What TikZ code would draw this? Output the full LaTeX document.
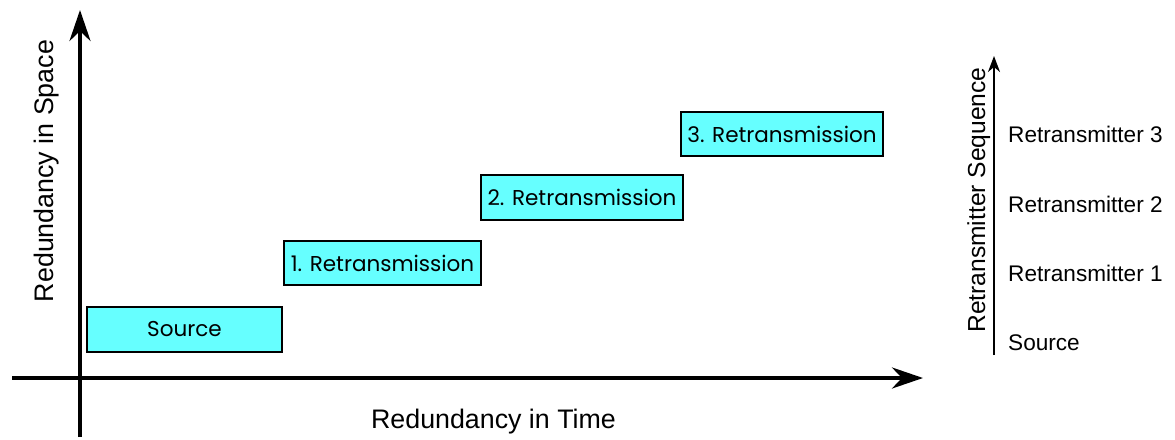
\documentclass[tikz,border=0pt]{standalone}
\usepackage{fontspec}
\setmainfont{Liberation Sans}
\newfontfamily\boxfont{Poppins}
\usetikzlibrary{arrows.meta}
\definecolor{slotfill}{HTML}{66FFFF}
\tikzset{
  axis/.style={line width=4pt, -{Stealth[length=31pt, width=21pt, inset=10pt]}},
  seqaxis/.style={line width=2pt, -{Stealth[length=16pt, width=12pt, inset=5pt]}},
  slot/.style={draw=black, line width=1.6pt, fill=slotfill, inner sep=0pt,
    font=\boxfont\fontsize{21.5}{24}\selectfont},
  axislabel/.style={inner sep=0pt, anchor=base, font=\fontsize{26.8}{30}\selectfont},
  seqlabel/.style={inner sep=0pt, anchor=base west, font=\fontsize{22.6}{25}\selectfont}
}
\begin{document}
\begin{tikzpicture}[x=1pt, y=-1pt]
  \useasboundingbox (0,0) rectangle (1175,439);

  % axes of the main chart
  \coordinate (xstart) at (12,378);
  \coordinate (xend) at (923,378);
  \coordinate (ystart) at (80,437);
  \coordinate (yend) at (80,10);
  \draw[axis] (xstart) -- (xend);
  \draw[axis] (ystart) -- (yend);

  \node[axislabel] (timelabel) at (493.5,428) {Redundancy in Time};
  \node[axislabel, rotate=90] (spacelabel) at (53,171) {Redundancy in Space};

  % transmissions, staggered in time and space
  \node[slot, minimum width=195pt, minimum height=45pt] (src) at (184.5,329.5) {Source};
  \node[slot, minimum width=197pt, minimum height=44pt] (r1) at (382.5,263) {1. Retransmission};
  \node[slot, minimum width=202pt, minimum height=45pt] (r2) at (582,197.5) {2. Retransmission};
  \node[slot, minimum width=202pt, minimum height=44pt] (r3) at (782,134) {3. Retransmission};

  % sequence scale on the right
  \coordinate (seqstart) at (994,355);
  \coordinate (seqend) at (994,56);
  \draw[seqaxis] (seqstart) -- (seqend);
  \node[axislabel, rotate=90, font=\fontsize{24.6}{27}\selectfont] (seqlabel) at (985,200) {Retransmitter Sequence};

  \node[seqlabel] (lsrc) at (1008,350) {Source};
  \node[seqlabel] (l1) at (1008,281) {Retransmitter 1};
  \node[seqlabel] (l2) at (1008,212) {Retransmitter 2};
  \node[seqlabel] (l3) at (1008,142) {Retransmitter 3};
\end{tikzpicture}
\end{document}
